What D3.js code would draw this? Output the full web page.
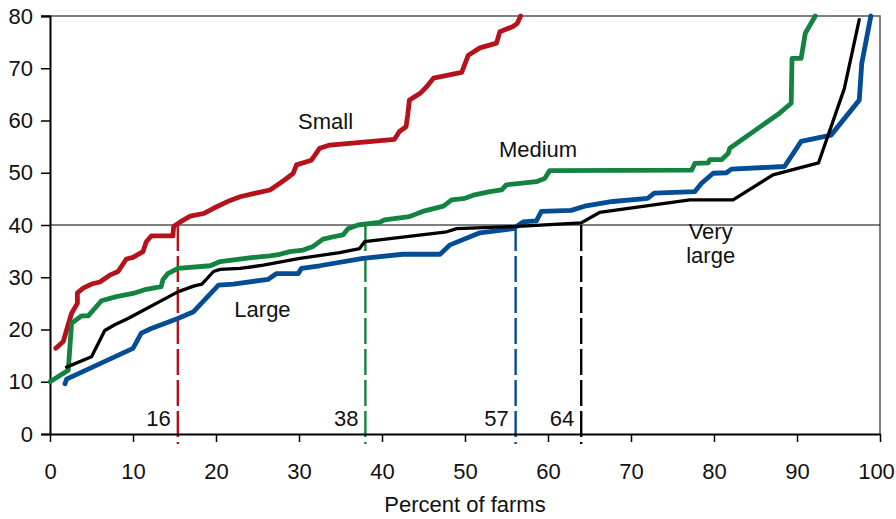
<!DOCTYPE html>
<html>
<head>
<meta charset="utf-8">
<script src="https://cdn.jsdelivr.net/npm/d3@7"></script>
<style>
  body { margin: 0; background: #fff; }
  text { font-family: "Liberation Sans", Arial, Helvetica, sans-serif; fill: #111; }
</style>
</head>
<body>
<div id="chart"></div>
<script>
// cumulative curves: [percent of farms, value]
const small = [[0.7,16.4],[1.6,17.7],[2.0,19.9],[2.6,23.1],[3.3,25.0],[3.3,27.0],[4.0,27.9],[5.0,28.7],[6.0,29.1],[7.2,30.4],[8.2,31.1],[9.2,33.5],[10.0,33.8],[11.2,34.9],[11.6,36.8],[12.2,37.9],[14.8,37.9],[14.9,39.7],[15.7,40.6],[16.9,41.7],[18.5,42.2],[19.7,43.2],[21.7,44.7],[22.9,45.4],[24.5,46.0],[26.5,46.7],[27.7,48.0],[28.5,48.9],[29.3,49.9],[29.7,51.5],[31.5,52.4],[32.5,54.7],[33.7,55.3],[41.5,56.4],[42.1,57.9],[42.9,58.8],[43.1,61.1],[43.3,63.9],[44.6,65.2],[45.4,66.5],[46.2,68.1],[49.6,69.2],[50.4,72.5],[51.8,73.9],[53.8,74.8],[54.2,77.0],[55.8,78.0],[56.3,78.6],[56.7,80.0]];
const medium = [[0,10.0],[2.2,12.2],[2.6,21.2],[3.8,22.6],[4.6,22.6],[6.2,25.5],[8.0,26.3],[10.0,26.9],[11.6,27.7],[13.4,28.2],[13.6,29.5],[14.2,30.7],[15.4,31.7],[19.3,32.2],[20.5,33.0],[24.5,33.8],[26.5,34.1],[27.7,34.4],[28.9,34.9],[30.5,35.2],[31.7,35.9],[32.9,37.3],[34.3,37.8],[35.3,38.1],[35.9,39.3],[37.1,40.0],[39.7,40.5],[40.3,41.0],[43.3,41.6],[44.9,42.6],[47.4,43.6],[48.4,44.8],[50.0,45.1],[51.0,45.7],[53.0,46.4],[54.4,46.7],[55.0,47.7],[58.6,48.3],[59.6,48.9],[60.2,50.4],[77.3,50.5],[77.7,51.8],[79.3,51.9],[79.5,52.5],[80.9,52.5],[81.7,53.7],[81.9,54.7],[87.9,61.4],[89.3,63.3],[89.4,71.9],[90.5,71.9],[91.0,76.7],[92.2,80.0]];
const large = [[1.8,9.6],[2.0,10.5],[10.0,16.4],[11.0,19.3],[12.2,20.2],[15.4,22.1],[17.3,23.4],[20.3,28.5],[22.1,28.7],[26.3,29.6],[27.3,30.7],[29.9,30.7],[30.3,31.7],[32.5,32.2],[37.7,33.6],[42.5,34.4],[47.0,34.4],[48.2,36.2],[51.8,38.5],[55.8,39.3],[57.0,40.6],[58.6,40.8],[59.2,42.6],[62.8,42.8],[64.4,43.6],[67.8,44.5],[72.0,45.1],[72.8,46.1],[77.7,46.4],[78.5,48.0],[79.9,49.9],[81.5,50.0],[82.1,50.7],[88.5,51.2],[90.5,56.0],[94.1,57.2],[97.5,63.9],[97.8,70.9],[98.9,80.0]];
const veryLarge = [[2.0,12.8],[5.0,14.8],[6.6,19.8],[7.8,20.9],[9.4,22.1],[15.4,27.2],[17.3,28.3],[18.3,28.7],[19.7,31.1],[20.5,31.5],[22.9,31.7],[25.7,32.3],[30.1,33.6],[34.9,34.7],[37.3,35.5],[37.9,36.8],[47.8,38.7],[49.0,39.3],[55.8,39.7],[64.0,40.4],[66.2,42.4],[77.1,44.8],[82.3,44.8],[87.1,49.6],[92.6,51.9],[95.7,66.1],[97.5,79.3]];

const seriesNames = ["Small", "Medium", "Large", "Very large"];
const seriesData = [small, medium, large, veryLarge];
const seriesColors = ["#b5121b", "#12843f", "#044c93", "#000000"];
const seriesWidths = [4.8, 4.8, 4.8, 3.3];

// where each curve crosses the reference level
const refLevel = 40;
const dropX = [15.4, 38.0, 56.1, 64.0];
const dropLabels = ["16", "38", "57", "64"];

const xTicks = [0, 10, 20, 30, 40, 50, 60, 70, 80, 90, 100];
const yTicks = [0, 10, 20, 30, 40, 50, 60, 70, 80];

const W = 896, H = 519;
const margin = {top: 16, right: 16, bottom: 85, left: 50};
const width = W - margin.left - margin.right,
      height = H - margin.top - margin.bottom;

const svg = d3.select("#chart").append("svg")
  .attr("width", W).attr("height", H)
  .append("g")
  .attr("transform", `translate(${margin.left},${margin.top})`);

const x = d3.scaleLinear().domain([0, 100]).range([0, width]);
const y = d3.scaleLinear().domain([0, 80]).range([height, 0]);

// frame (top + right)
svg.append("path")
   .attr("d", `M${-9},0H${width}V${height}`)
   .attr("fill", "none").attr("stroke", "#555").attr("stroke-width", 1.5);

// reference line at 40
svg.append("line")
   .attr("x1", 0).attr("x2", width)
   .attr("y1", y(refLevel)).attr("y2", y(refLevel))
   .attr("stroke", "#000").attr("stroke-width", 1.2);

// dashed drop lines
svg.selectAll(".drop")
   .data(dropX)
   .enter().append("line")
   .attr("x1", d => x(d)).attr("x2", d => x(d))
   .attr("y1", y(refLevel)).attr("y2", height + 10)
   .attr("stroke", (d, i) => seriesColors[i])
   .attr("stroke-width", 2.4)
   .attr("stroke-dasharray", "26,5");

svg.selectAll(".dropLabel")
   .data(dropX)
   .enter().append("text")
   .attr("x", d => x(d) - 7)
   .attr("y", height - 8)
   .attr("text-anchor", "end")
   .style("font-size", "22px")
   .text((d, i) => dropLabels[i]);

// axes
const yAxis = svg.append("g")
   .call(d3.axisLeft(y).tickValues(yTicks).tickSize(9).tickPadding(8));
const xAxis = svg.append("g")
   .attr("transform", `translate(0,${height})`)
   .call(d3.axisBottom(x).tickValues(xTicks).tickSize(8).tickSizeOuter(0));

yAxis.select(".domain").attr("stroke", "#000").attr("stroke-width", 2);
yAxis.selectAll(".tick line").attr("stroke", "#000").attr("stroke-width", 1.5);
yAxis.selectAll(".tick text").style("font-size", "22px").attr("fill", "#111");
xAxis.select(".domain").attr("stroke", "#000").attr("stroke-width", 2);
xAxis.selectAll(".tick line").attr("stroke", "#000").attr("stroke-width", 1.5);
xAxis.selectAll(".tick text").style("font-size", "22px").attr("fill", "#111")
     .attr("y", 45).attr("dy", 0)
     .attr("x", d => d === 100 ? -4 : 0);

svg.append("text")
   .attr("x", width / 2).attr("y", height + 78)
   .attr("text-anchor", "middle")
   .style("font-size", "22px")
   .text("Percent of farms");

// curves
const line = d3.line().x(d => x(d[0])).y(d => y(d[1]));

svg.selectAll(".curve")
   .data(seriesData)
   .enter().append("path")
   .attr("class", "curve")
   .attr("d", line)
   .attr("fill", "none")
   .attr("stroke", (d, i) => seriesColors[i])
   .attr("stroke-width", (d, i) => seriesWidths[i])
   .attr("stroke-linejoin", "round")
   .attr("stroke-linecap", "round");

// series labels (baseline of first line, in data units)
const labelPos = [[33.2, 58.4], [58.8, 53.0], [25.6, 22.4], [79.6, 37.3]];
labelPos.forEach((p, i) => {
  const t = svg.append("text")
     .attr("x", x(p[0])).attr("y", y(p[1]))
     .attr("text-anchor", "middle")
     .style("font-size", "22px");
  seriesNames[i].split(" ").forEach((w, j) => {
    t.append("tspan").attr("x", x(p[0])).attr("dy", j ? 24 : 0).text(w);
  });
});
</script>
</body>
</html>
